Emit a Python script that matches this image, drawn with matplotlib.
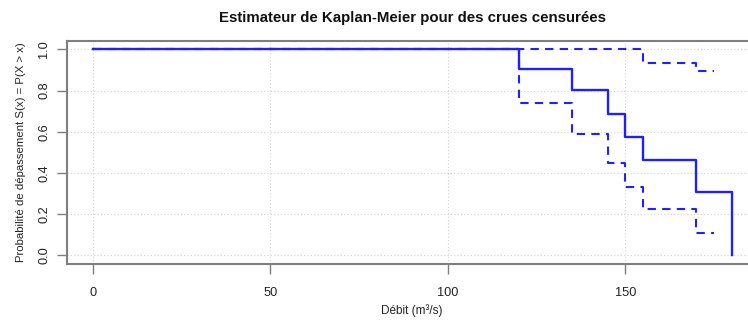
import matplotlib
matplotlib.use("Agg")
import matplotlib.pyplot as plt

plt.rcParams['font.family'] = ['Liberation Sans', 'DejaVu Sans']

# Kaplan-Meier estimate (step values after each event time)
times = [0, 120, 135, 145, 150, 155, 170, 180]
surv = [1.0, 0.903, 0.801, 0.686, 0.576, 0.461, 0.306, 0.0]

# Confidence bounds
ci_times = [0, 120, 135, 145, 150, 155, 170, 175]
ci_upper = [1.0, 1.0, 1.0, 1.0, 1.0, 0.935, 0.893, 0.893]
ci_lower = [1.0, 0.739, 0.589, 0.447, 0.330, 0.226, 0.110, 0.110]

xticks = [0, 50, 100, 150]
yticks = [0.0, 0.2, 0.4, 0.6, 0.8, 1.0]

blue = '#1f1fff'
grey = '#7f7f7f'

W, H = 748, 321
fig = plt.figure(figsize=(W / 100, H / 100), dpi=100)
ax = fig.add_axes([0.0896, 0.179, 0.923, 0.693])

ax.set_xlim(-7.2, 187.2)
ax.set_ylim(-0.04, 1.04)

for v in xticks:
    ax.axvline(v, color='#d3d3d3', lw=0.8, ls=(0, (1, 2)), zorder=0)
for v in yticks:
    ax.axhline(v, color='#d3d3d3', lw=0.8, ls=(0, (1, 2)), zorder=0)

ax.step(ci_times, ci_upper, where='post', color=blue, lw=1.5, ls=(0, (4, 3)))
ax.step(ci_times, ci_lower, where='post', color=blue, lw=1.5, ls=(0, (4, 3)))
ax.step(times, surv, where='post', color=blue, lw=1.7)

ax.set_xticks(xticks)
ax.set_xticklabels([str(v) for v in xticks])
ax.set_yticks(yticks)
ax.set_yticklabels([f"{v:.1f}" for v in yticks], rotation=90, va='center')

ax.tick_params(axis='both', direction='out', length=7, width=1, color=grey,
               labelsize=9.2, labelcolor='#222222')
ax.tick_params(axis='x', pad=10)
ax.tick_params(axis='y', pad=5)

for s in ax.spines.values():
    s.set_color(grey)
    s.set_linewidth(1.5)

ax.set_title("Estimateur de Kaplan-Meier pour des crues censurées",
             fontsize=10.8, fontweight='bold', pad=14, color='#111111')
# x-axis title centred under the plotting region
fig.text(412 / W, 1 - 311 / H, "Débit (m³/s)", fontsize=8.5, color='#222222',
         ha='center', va='center')
ax.set_ylabel("Probabilité de dépassement S(x) = P(X > x)", fontsize=8.2,
              labelpad=9, color='#222222')

fig.savefig("out.png", dpi=100)
